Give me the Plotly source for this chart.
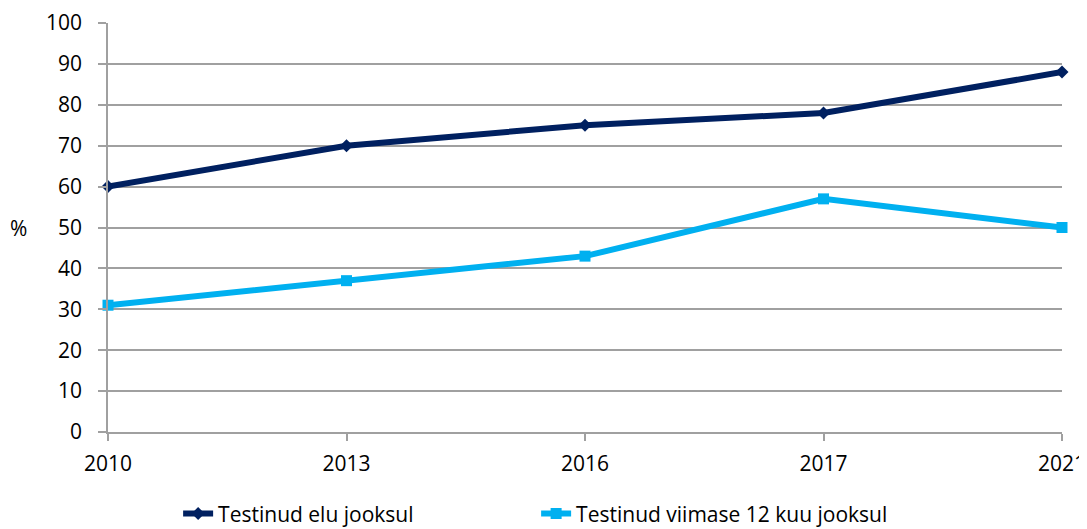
import plotly.graph_objects as go

years = ["2010", "2013", "2016", "2017", "2021"]
elu_jooksul = [60, 70, 75, 78, 88]
viimase_12_kuu = [31, 37, 43, 57, 50]
y_ticks = list(range(0, 101, 10))

fig = go.Figure()

fig.add_trace(
    go.Scatter(
        x=years,
        y=elu_jooksul,
        name="Testinud elu jooksul",
        mode="lines+markers",
        line=dict(color="#002060", width=6),
        marker=dict(symbol="diamond", size=10, color="#002060"),
        cliponaxis=False,
    )
)
fig.add_trace(
    go.Scatter(
        x=years,
        y=viimase_12_kuu,
        name="Testinud viimase 12 kuu jooksul",
        mode="lines+markers",
        line=dict(color="#00B0F0", width=6),
        marker=dict(symbol="square", size=11, color="#00B0F0"),
        cliponaxis=False,
    )
)

# "%" label sits horizontally left of the y tick labels
fig.add_annotation(
    text="%", xref="paper", yref="paper", x=-0.094, y=0.5,
    xanchor="center", yanchor="middle",
    showarrow=False, font=dict(size=21, color="#000000"),
)

fig.update_layout(
    width=1079,
    height=521,
    margin=dict(l=100, r=25, t=15, b=97, autoexpand=False),
    plot_bgcolor="white",
    paper_bgcolor="white",
    font=dict(family="Open Sans, Liberation Sans, sans-serif", size=21, color="#000000"),
    showlegend=True,
    legend=dict(
        orientation="h",
        x=0.0735,
        xanchor="left",
        y=-0.150,
        yanchor="top",
        font=dict(size=21),
        entrywidth=313,
        entrywidthmode="pixels",
        bgcolor="rgba(0,0,0,0)",
    ),
)

fig.update_xaxes(
    type="category",
    range=[0, 4],
    showgrid=False,
    showline=True,
    linecolor="#A0A0A0",
    linewidth=1.5,
    ticks="outside",
    ticklen=7,
    tickwidth=1.5,
    tickcolor="#A0A0A0",
    ticklabelstandoff=5,
    zeroline=False,
)
fig.update_yaxes(
    range=[0, 100],
    tickvals=y_ticks,
    showgrid=True,
    gridcolor="#A0A0A0",
    gridwidth=1.5,
    showline=True,
    linecolor="#A0A0A0",
    linewidth=1.5,
    ticks="outside",
    ticklen=8,
    tickwidth=1.5,
    tickcolor="#A0A0A0",
    ticklabelstandoff=12,
    zeroline=False,
)

fig.write_html("out.html")
